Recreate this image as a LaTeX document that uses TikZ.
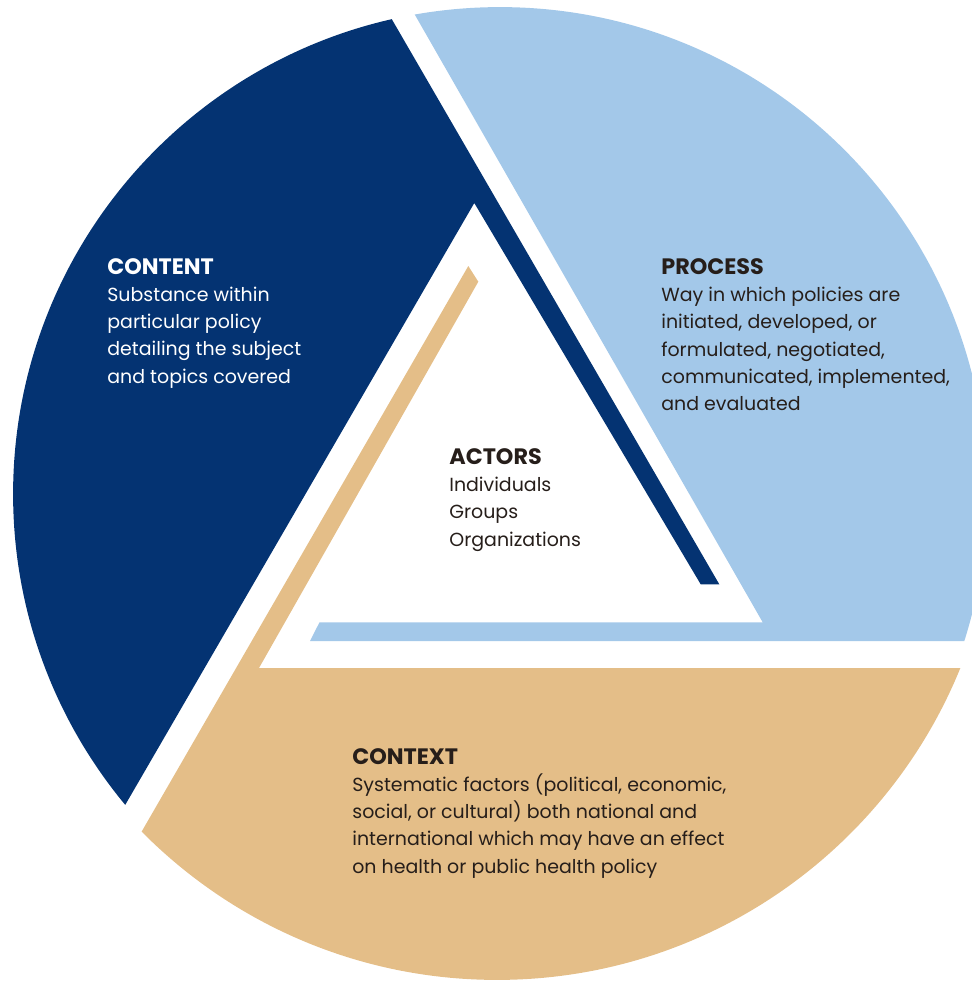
\documentclass[tikz,border=0pt]{standalone}
\usepackage{fontspec}
\setmainfont{Poppins}
\definecolor{dkblue}{RGB}{4,51,114}
\definecolor{ltblue}{RGB}{163,200,233}
\definecolor{beige}{RGB}{228,190,136}
\definecolor{ink}{RGB}{38,30,26}
\newcommand\blockhead[1]{{\fontsize{12.7pt}{15.5pt}\selectfont\bfseries #1}}
\tikzset{
  blocktext/.style={anchor=base west, inner sep=0pt, align=left,
    font=\fontsize{10.8pt}{15.5pt}\selectfont},
}
\begin{document}
\begin{tikzpicture}[x=0.02cm,y=-0.02cm]
\useasboundingbox (0,0) rectangle (972,984);
\clip (0,0) rectangle (972,984);
% CONTENT sector (dark blue)
\begin{scope}
  \clip (500,494) circle[radius=9.74cm];
  \fill[dkblue] (474.3,203) -- (66,907) -- (-50,907) -- (-50,-50) -- (351.7,-50)
     -- (719.3,584.3) -- (700.7,584.3) -- cycle;
\end{scope}
% PROCESS sector (light blue)
\begin{scope}
  \clip (500,494) circle[radius=9.74cm];
  \fill[ltblue] (377.8,-50) -- (1050,-50) -- (1050,641) -- (310,641)
     -- (319.5,622.3) -- (762.7,622.3) -- cycle;
\end{scope}
% CONTEXT sector (beige)
\begin{scope}
  \clip (497,480) circle[radius=10cm];
  \fill[beige] (1050,668) -- (259,668) -- (478.3,281.7) -- (468.3,266)
     -- (15.5,1050) -- (1050,1050) -- cycle;
\end{scope}
% Texts (anchored at the baseline of the last line)
\node[blocktext, text=white] (content) at (107,383.2)
  {\blockhead{CONTENT}\\Substance within\\particular policy\\detailing the subject\\and topics covered};
\node[blocktext, text=ink] (process) at (661,410.5)
  {\blockhead{PROCESS}\\Way in which policies are\\initiated, developed, or\\formulated, negotiated,\\communicated, implemented,\\and evaluated};
\node[blocktext, text=ink] (actors) at (449,546)
  {\blockhead{ACTORS}\\Individuals\\Groups\\Organizations};
\node[blocktext, text=ink] (context) at (352,873.2)
  {\blockhead{CONTEXT}\\Systematic factors (political, economic,\\social, or cultural) both national and\\international which may have an effect\\on health or public health policy};
\end{tikzpicture}
\end{document}
